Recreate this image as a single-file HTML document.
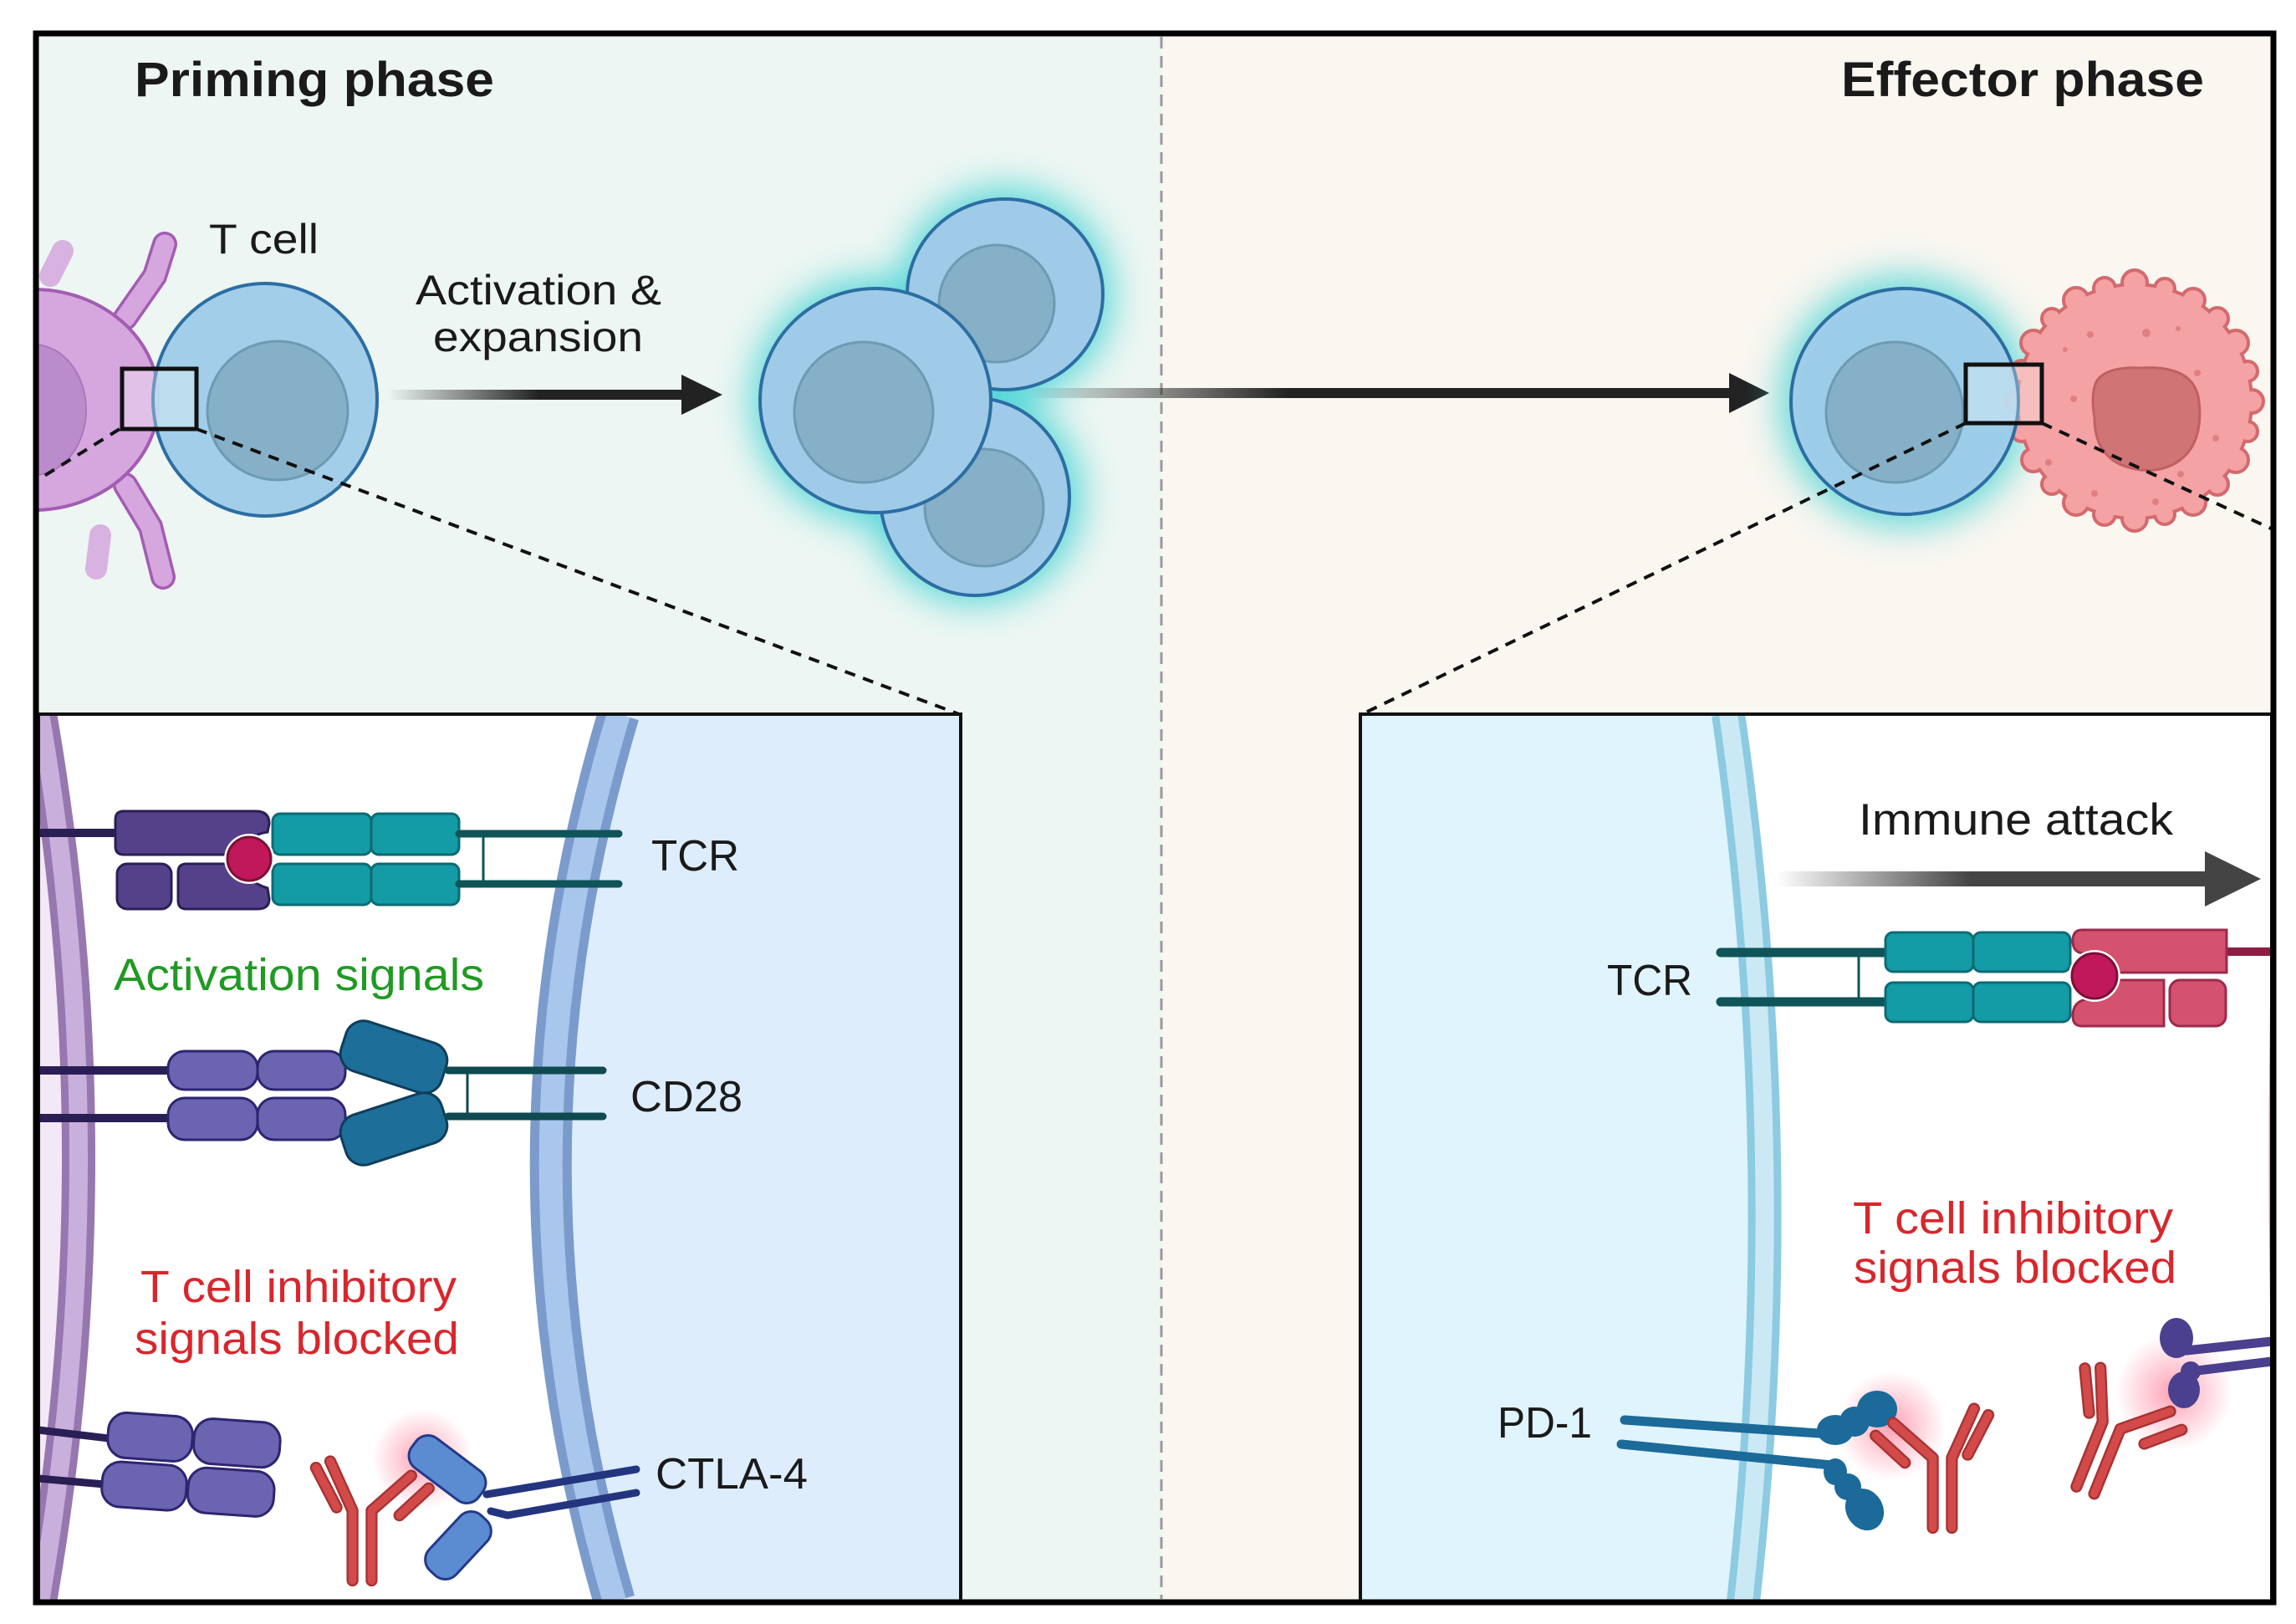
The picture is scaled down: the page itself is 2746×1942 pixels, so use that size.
<!DOCTYPE html>
<html><head><meta charset="utf-8"><style>html,body{margin:0;padding:0;background:#fff}svg{display:block}text{font-family:"Liberation Sans",sans-serif}</style></head>
<body>
<svg width="2746" height="1942" viewBox="0 0 2746 1942" xmlns="http://www.w3.org/2000/svg">
<defs>
<filter id="blur" x="-50%" y="-50%" width="200%" height="200%"><feGaussianBlur stdDeviation="22"/></filter>
<radialGradient id="pg"><stop offset="0" stop-color="#ff5577" stop-opacity="0.55"/><stop offset="1" stop-color="#ff5577" stop-opacity="0"/></radialGradient>
<linearGradient id="a1" x1="464" y1="0" x2="864" y2="0" gradientUnits="userSpaceOnUse"><stop offset="0" stop-color="#222" stop-opacity="0"/><stop offset="0.45" stop-color="#222"/></linearGradient>
<linearGradient id="a2" x1="1230" y1="0" x2="2116" y2="0" gradientUnits="userSpaceOnUse"><stop offset="0" stop-color="#222" stop-opacity="0"/><stop offset="0.35" stop-color="#222"/></linearGradient>
<linearGradient id="a3" x1="2125" y1="0" x2="2704" y2="0" gradientUnits="userSpaceOnUse"><stop offset="0" stop-color="#444" stop-opacity="0"/><stop offset="0.4" stop-color="#444"/></linearGradient>
<clipPath id="cl"><rect x="46" y="854" width="1103" height="1061"/></clipPath>
<clipPath id="cr"><rect x="1627" y="854" width="1090" height="1061"/></clipPath>
<clipPath id="ctop"><rect x="46" y="43" width="2671" height="1870"/></clipPath>
<g id="ab">
<g stroke="#a83232" stroke-width="15" fill="none" stroke-linecap="round" stroke-linejoin="round">
<path d="M-12,0 L-12,-88 L-40,-150"/><path d="M12,0 L12,-88 L62,-132"/><path d="M-32,-92 L-58,-142"/><path d="M47,-82 L84,-116"/></g>
<g stroke="#d34a4a" stroke-width="10" fill="none" stroke-linecap="round" stroke-linejoin="round">
<path d="M-12,0 L-12,-88 L-40,-150"/><path d="M12,0 L12,-88 L62,-132"/><path d="M-32,-92 L-58,-142"/><path d="M47,-82 L84,-116"/></g>
</g>
<g id="bumps">
<circle cx="2553" cy="480" r="138"/>
<circle cx="2693" cy="480" r="12"/><circle cx="2688" cy="516" r="10"/><circle cx="2674" cy="550" r="13"/><circle cx="2652" cy="579" r="11"/><circle cx="2623" cy="601" r="13"/><circle cx="2589" cy="615" r="10"/><circle cx="2553" cy="620" r="13"/><circle cx="2517" cy="615" r="11"/><circle cx="2483" cy="601" r="13"/><circle cx="2454" cy="579" r="10"/><circle cx="2432" cy="550" r="12"/><circle cx="2418" cy="516" r="10"/><circle cx="2413" cy="480" r="12"/><circle cx="2418" cy="444" r="11"/><circle cx="2432" cy="410" r="13"/><circle cx="2454" cy="381" r="10"/><circle cx="2483" cy="359" r="13"/><circle cx="2517" cy="345" r="11"/><circle cx="2553" cy="338" r="13"/><circle cx="2589" cy="345" r="10"/><circle cx="2623" cy="359" r="12"/><circle cx="2652" cy="381" r="11"/><circle cx="2674" cy="410" r="13"/><circle cx="2688" cy="444" r="10"/>
</g>
</defs>

<rect x="43" y="40" width="1346" height="1876" fill="#edf6f2"/>
<rect x="1389" y="40" width="1330" height="1876" fill="#faf6f0"/>
<line x1="1389" y1="44" x2="1389" y2="1912" stroke="#9a9a9a" stroke-width="3" stroke-dasharray="14,9"/>

<g clip-path="url(#ctop)">
<g stroke-linecap="round" fill="none">
<path d="M60,330 L75,300" stroke="#d8b2e0" stroke-width="26"/>
<path d="M120,640 L115,680" stroke="#d8b2e0" stroke-width="26"/>
<path d="M150,380 L185,330 L197,292" stroke="#a35cb3" stroke-width="30"/>
<path d="M150,580 L180,630 L195,690" stroke="#a35cb3" stroke-width="30"/>
<path d="M150,380 L185,330 L197,292" stroke="#d6a6de" stroke-width="23"/>
<path d="M150,580 L180,630 L195,690" stroke="#d6a6de" stroke-width="23"/>
</g>
<ellipse cx="40" cy="478" rx="150" ry="132" fill="#d6a6de" stroke="#a35cb3" stroke-width="4"/>
<ellipse cx="40" cy="490" rx="63" ry="78" fill="#bb8ccb" stroke="#a877bd" stroke-width="2"/>
<ellipse cx="317" cy="478" rx="134" ry="139" fill="#9fcbe8" fill-opacity="0.95" stroke="#2c6ea3" stroke-width="4"/>
<ellipse cx="332" cy="491" rx="84" ry="83" fill="#86b0c8" stroke="#6d9ab4" stroke-width="3"/>
<rect x="146" y="441" width="89" height="72" fill="#fff" fill-opacity="0.3" stroke="#111" stroke-width="5"/>
<rect x="464" y="466" width="356" height="12" fill="url(#a1)"/>
<polygon points="815,448 864,472 815,496" fill="#222"/>
<g filter="url(#blur)" fill="#3fd2d4" opacity="0.85">
<circle cx="1202" cy="352" r="128"/><circle cx="1166" cy="594" r="128"/><circle cx="1047" cy="479" r="148"/></g>
<g stroke="#2c6ea3" stroke-width="4">
<ellipse cx="1202" cy="352" rx="117" ry="114" fill="#9fcbe8"/><ellipse cx="1192" cy="363" rx="69" ry="70" fill="#86b0c8" stroke="#6d9ab4" stroke-width="3"/>
<ellipse cx="1166" cy="594" rx="113" ry="118" fill="#9fcbe8"/><ellipse cx="1177" cy="607" rx="71" ry="70" fill="#86b0c8" stroke="#6d9ab4" stroke-width="3"/>
<ellipse cx="1047" cy="479" rx="138" ry="134" fill="#9fcbe8"/><ellipse cx="1033" cy="493" rx="83" ry="84" fill="#86b0c8" stroke="#6d9ab4" stroke-width="3"/>
</g>
<rect x="1230" y="464" width="845" height="12" fill="url(#a2)"/>
<polygon points="2068,446 2116,470 2068,494" fill="#222"/>
<ellipse cx="2278" cy="480" rx="150" ry="150" fill="#3fd2d4" opacity="0.8" filter="url(#blur)"/>
<use href="#bumps" fill="#d36a6e" stroke="#d36a6e" stroke-width="8"/>
<use href="#bumps" fill="#f4a2a3"/>
<g fill="#e07f83"><circle cx="2500" cy="400" r="4"/><circle cx="2567" cy="398" r="5"/><circle cx="2628" cy="446" r="4"/><circle cx="2480" cy="477" r="4"/><circle cx="2650" cy="524" r="4"/><circle cx="2450" cy="553" r="4"/><circle cx="2505" cy="590" r="4"/><circle cx="2578" cy="600" r="4"/><circle cx="2608" cy="567" r="4"/><circle cx="2470" cy="418" r="3"/><circle cx="2605" cy="393" r="3"/></g>
<path d="M2508,455 Q2520,438 2560,440 Q2625,436 2630,480 Q2636,535 2600,555 Q2570,570 2535,555 Q2505,540 2505,500 Q2500,470 2508,455Z" fill="#d07475" stroke="#c06064" stroke-width="3"/>
<ellipse cx="2278" cy="480" rx="136" ry="135" fill="#9fcbe8" fill-opacity="0.93" stroke="#2c6ea3" stroke-width="4"/>
<ellipse cx="2266" cy="493" rx="82" ry="84" fill="#86b0c8" stroke="#6d9ab4" stroke-width="3"/>
<rect x="2351" y="436" width="91" height="70" fill="#fff" fill-opacity="0.3" stroke="#111" stroke-width="5"/>
<g stroke="#111" stroke-width="4" stroke-dasharray="13,10">
<line x1="143" y1="513" x2="45" y2="574"/>
<line x1="235" y1="513" x2="1147" y2="854"/>
<line x1="2351" y1="506" x2="1627" y2="855"/>
<line x1="2442" y1="506" x2="2716" y2="632"/>
</g>
</g>

<text x="161" y="115" font-size="58" font-weight="bold" fill="#1a1a1a" textLength="430" lengthAdjust="spacingAndGlyphs">Priming phase</text>
<text x="2202" y="115" font-size="58" font-weight="bold" fill="#1a1a1a" textLength="434" lengthAdjust="spacingAndGlyphs">Effector phase</text>
<text x="250" y="303" font-size="50" fill="#1a1a1a" textLength="131" lengthAdjust="spacingAndGlyphs">T cell</text>
<text x="497" y="364" font-size="50" fill="#1a1a1a" textLength="294" lengthAdjust="spacingAndGlyphs">Activation &amp;</text>
<text x="518" y="420" font-size="50" fill="#1a1a1a" textLength="251" lengthAdjust="spacingAndGlyphs">expansion</text>

<g clip-path="url(#cl)">
<rect x="46" y="854" width="1103" height="1061" fill="#fff"/>
<path d="M740,854 Q580,1385 735,1915 L1149,1915 L1149,854Z" fill="#ddedfc"/>
<path d="M740,854 Q580,1385 735,1915" fill="none" stroke="#7b9bcc" stroke-width="50"/>
<path d="M740,854 Q580,1385 735,1915" fill="none" stroke="#a9c7ed" stroke-width="28"/>
<path d="M40,854 L48,854 Q140,1385 48,1915 L40,1915Z" fill="#f3e8f6"/>
<path d="M48,854 Q140,1385 48,1915" fill="none" stroke="#9777b0" stroke-width="40"/>
<path d="M48,854 Q140,1385 48,1915" fill="none" stroke="#c9b0dc" stroke-width="22"/>
</g>
<line x1="46" y1="996" x2="140" y2="996" stroke="#2a1f55" stroke-width="10"/>
<g stroke="#2a1f55" stroke-width="3" fill="#54418a">
<path d="M148,970 L306,970 Q322,970 322,985 L320,995 Q296,998 286,1022 L148,1022 Q138,1022 138,1012 L138,980 Q138,970 148,970Z"/>
<rect x="140" y="1033" width="65" height="54" rx="12"/>
<path d="M223,1033 L286,1033 Q296,1055 320,1062 L322,1075 Q322,1087 308,1087 L223,1087 Q213,1087 213,1077 L213,1043 Q213,1033 223,1033Z"/>
</g>
<g stroke="#0c6b73" stroke-width="3" fill="#139ba6">
<rect x="326" y="973" width="118" height="49" rx="9"/><rect x="444" y="973" width="105" height="49" rx="9"/>
<rect x="326" y="1033" width="118" height="49" rx="9"/><rect x="444" y="1033" width="105" height="49" rx="9"/>
</g>
<circle cx="298" cy="1027" r="30" fill="#fff"/>
<circle cx="298" cy="1027" r="26" fill="#c0185a" stroke="#7d1038" stroke-width="3"/>
<g stroke="#0e5458" stroke-width="9" stroke-linecap="round"><line x1="549" y1="997" x2="740" y2="997"/><line x1="549" y1="1057" x2="740" y2="1057"/></g>
<line x1="578" y1="997" x2="578" y2="1057" stroke="#0e5458" stroke-width="3"/>
<text x="779" y="1041" font-size="52" fill="#1a1a1a" textLength="105" lengthAdjust="spacingAndGlyphs">TCR</text>
<text x="136" y="1184" font-size="54" fill="#1f9a23" textLength="443" lengthAdjust="spacingAndGlyphs">Activation signals</text>
<g stroke="#2a1f55" stroke-width="10"><line x1="46" y1="1280" x2="205" y2="1280"/><line x1="46" y1="1337" x2="205" y2="1337"/></g>
<g stroke="#2e2570" stroke-width="3" fill="#6b64b0">
<rect x="201" y="1257" width="107" height="46" rx="20"/><rect x="308" y="1257" width="105" height="46" rx="20"/>
<rect x="201" y="1313" width="107" height="50" rx="20"/><rect x="308" y="1313" width="105" height="50" rx="20"/>
</g>
<g stroke="#0f3e5a" stroke-width="3" fill="#1d6f9a">
<rect x="408" y="1233" width="126" height="62" rx="22" transform="rotate(18 471 1264)"/>
<rect x="408" y="1319" width="126" height="62" rx="22" transform="rotate(-18 471 1350)"/>
</g>
<g stroke="#0e4a50" stroke-width="9" stroke-linecap="round"><line x1="536" y1="1280" x2="721" y2="1280"/><line x1="536" y1="1335" x2="721" y2="1335"/></g>
<line x1="559" y1="1280" x2="559" y2="1335" stroke="#0e4a50" stroke-width="3"/>
<text x="754" y="1329" font-size="52" fill="#1a1a1a" textLength="134" lengthAdjust="spacingAndGlyphs">CD28</text>
<text x="168" y="1557" font-size="54" fill="#d8262c" textLength="378" lengthAdjust="spacingAndGlyphs">T cell inhibitory</text>
<text x="161" y="1619" font-size="54" fill="#d8262c" textLength="388" lengthAdjust="spacingAndGlyphs">signals blocked</text>
<g stroke="#2a1f55" stroke-width="9"><line x1="46" y1="1710" x2="130" y2="1720"/><line x1="46" y1="1768" x2="125" y2="1775"/></g>
<g stroke="#2e2570" stroke-width="3" fill="#6b64b0" transform="rotate(4 230 1750)">
<rect x="127" y="1695" width="101" height="54" rx="22"/><rect x="230" y="1695" width="103" height="54" rx="22"/>
<rect x="124" y="1754" width="101" height="54" rx="22"/><rect x="227" y="1754" width="103" height="54" rx="22"/>
</g>
<circle cx="505" cy="1745" r="60" fill="url(#pg)"/>
<use href="#ab" transform="translate(433,1890) scale(0.95)"/>
<g stroke="#25398a" stroke-width="3" fill="#5b8bd0">
<rect x="485" y="1735" width="100" height="44" rx="18" transform="rotate(37 535 1757)"/>
<rect x="503" y="1826" width="90" height="44" rx="18" transform="rotate(-47 548 1848)"/>
</g>
<g stroke="#24357f" stroke-width="9" fill="none" stroke-linecap="round"><path d="M582,1787 L600,1784 L761,1757"/><path d="M587,1807 L607,1812 L761,1785"/></g>
<text x="784" y="1780" font-size="52" fill="#1a1a1a" textLength="182" lengthAdjust="spacingAndGlyphs">CTLA-4</text>
<rect x="46" y="854" width="1103" height="1061" fill="none" stroke="#111" stroke-width="4"/>

<g clip-path="url(#cr)">
<rect x="1627" y="854" width="1090" height="1061" fill="#fff"/>
<path d="M1627,854 L2067,854 Q2144,1385 2085,1915 L1627,1915Z" fill="#dff4fd"/>
<path d="M2067,854 Q2144,1385 2085,1915" fill="none" stroke="#8ccbe1" stroke-width="40"/>
<path d="M2067,854 Q2144,1385 2085,1915" fill="none" stroke="#cbe9f4" stroke-width="22"/>
<path d="M2730,854 Q2705,1385 2730,1915" fill="none" stroke="#d9a0a8" stroke-width="8"/>
</g>
<text x="2223" y="998" font-size="53" fill="#1a1a1a" textLength="376" lengthAdjust="spacingAndGlyphs">Immune attack</text>
<rect x="2125" y="1042" width="520" height="18" fill="url(#a3)"/>
<polygon points="2637,1018 2704,1051 2637,1084" fill="#444"/>
<g stroke="#0e5458" stroke-width="11" stroke-linecap="round"><line x1="2058" y1="1139" x2="2255" y2="1139"/><line x1="2058" y1="1198" x2="2255" y2="1198"/></g>
<line x1="2223" y1="1139" x2="2223" y2="1198" stroke="#0e5458" stroke-width="3"/>
<g stroke="#0c6b73" stroke-width="3" fill="#139ba6">
<rect x="2255" y="1115" width="105" height="47" rx="9"/><rect x="2360" y="1115" width="116" height="47" rx="9"/>
<rect x="2255" y="1175" width="105" height="47" rx="9"/><rect x="2360" y="1175" width="116" height="47" rx="9"/>
</g>
<line x1="2663" y1="1138" x2="2717" y2="1138" stroke="#8c1d45" stroke-width="10"/>
<g stroke="#9c2a4c" stroke-width="3" fill="#d4526e">
<path d="M2490,1112 L2663,1112 L2663,1163 L2532,1163 Q2520,1142 2490,1140 Q2479,1138 2479,1125 Q2479,1112 2490,1112Z"/>
<path d="M2532,1172 L2588,1172 L2588,1227 L2490,1227 Q2479,1227 2479,1215 Q2479,1198 2495,1195 Q2522,1192 2532,1172Z"/>
<rect x="2595" y="1172" width="67" height="55" rx="12"/>
</g>
<circle cx="2505" cy="1167" r="31" fill="#fff"/>
<circle cx="2505" cy="1167" r="27" fill="#c0185a" stroke="#7d1038" stroke-width="3"/>
<text x="1922" y="1190" font-size="52" fill="#1a1a1a" textLength="102" lengthAdjust="spacingAndGlyphs">TCR</text>
<text x="2216" y="1475" font-size="54" fill="#d8262c" textLength="383" lengthAdjust="spacingAndGlyphs">T cell inhibitory</text>
<text x="2217" y="1534" font-size="54" fill="#d8262c" textLength="386" lengthAdjust="spacingAndGlyphs">signals blocked</text>
<circle cx="2262" cy="1705" r="65" fill="url(#pg)"/>
<circle cx="2600" cy="1665" r="70" fill="url(#pg)"/>
<g stroke="#1b6a99" stroke-width="11" stroke-linecap="round" fill="none"><line x1="1943" y1="1698" x2="2190" y2="1715"/><line x1="1939" y1="1727" x2="2190" y2="1752"/></g>
<g fill="#1b6a99">
<ellipse cx="2195" cy="1710" rx="22" ry="18"/><ellipse cx="2218" cy="1700" rx="18" ry="18"/><ellipse cx="2245" cy="1685" rx="24" ry="22"/>
<ellipse cx="2195" cy="1760" rx="14" ry="16"/><ellipse cx="2210" cy="1778" rx="16" ry="16"/><ellipse cx="2230" cy="1805" rx="22" ry="26" transform="rotate(-30 2230 1805)"/>
</g>
<text x="1791" y="1719" font-size="52" fill="#1a1a1a" textLength="113" lengthAdjust="spacingAndGlyphs">PD-1</text>
<use href="#ab" transform="translate(2323,1827) scale(-0.95,0.95)"/>
<g stroke="#4b3f8f" stroke-width="11" stroke-linecap="round" fill="none"><line x1="2615" y1="1615" x2="2717" y2="1604"/><line x1="2620" y1="1640" x2="2717" y2="1628"/></g>
<g fill="#4b3f8f">
<ellipse cx="2603" cy="1600" rx="20" ry="24"/><ellipse cx="2612" cy="1662" rx="19" ry="22"/><ellipse cx="2620" cy="1640" rx="12" ry="12"/>
</g>
<use href="#ab" transform="translate(2494,1782) rotate(22) scale(0.95)"/>
<rect x="1627" y="854" width="1090" height="1061" fill="none" stroke="#111" stroke-width="4"/>

<rect x="43" y="40" width="2676" height="1876" fill="none" stroke="#000" stroke-width="7"/>
</svg>
</body></html>
